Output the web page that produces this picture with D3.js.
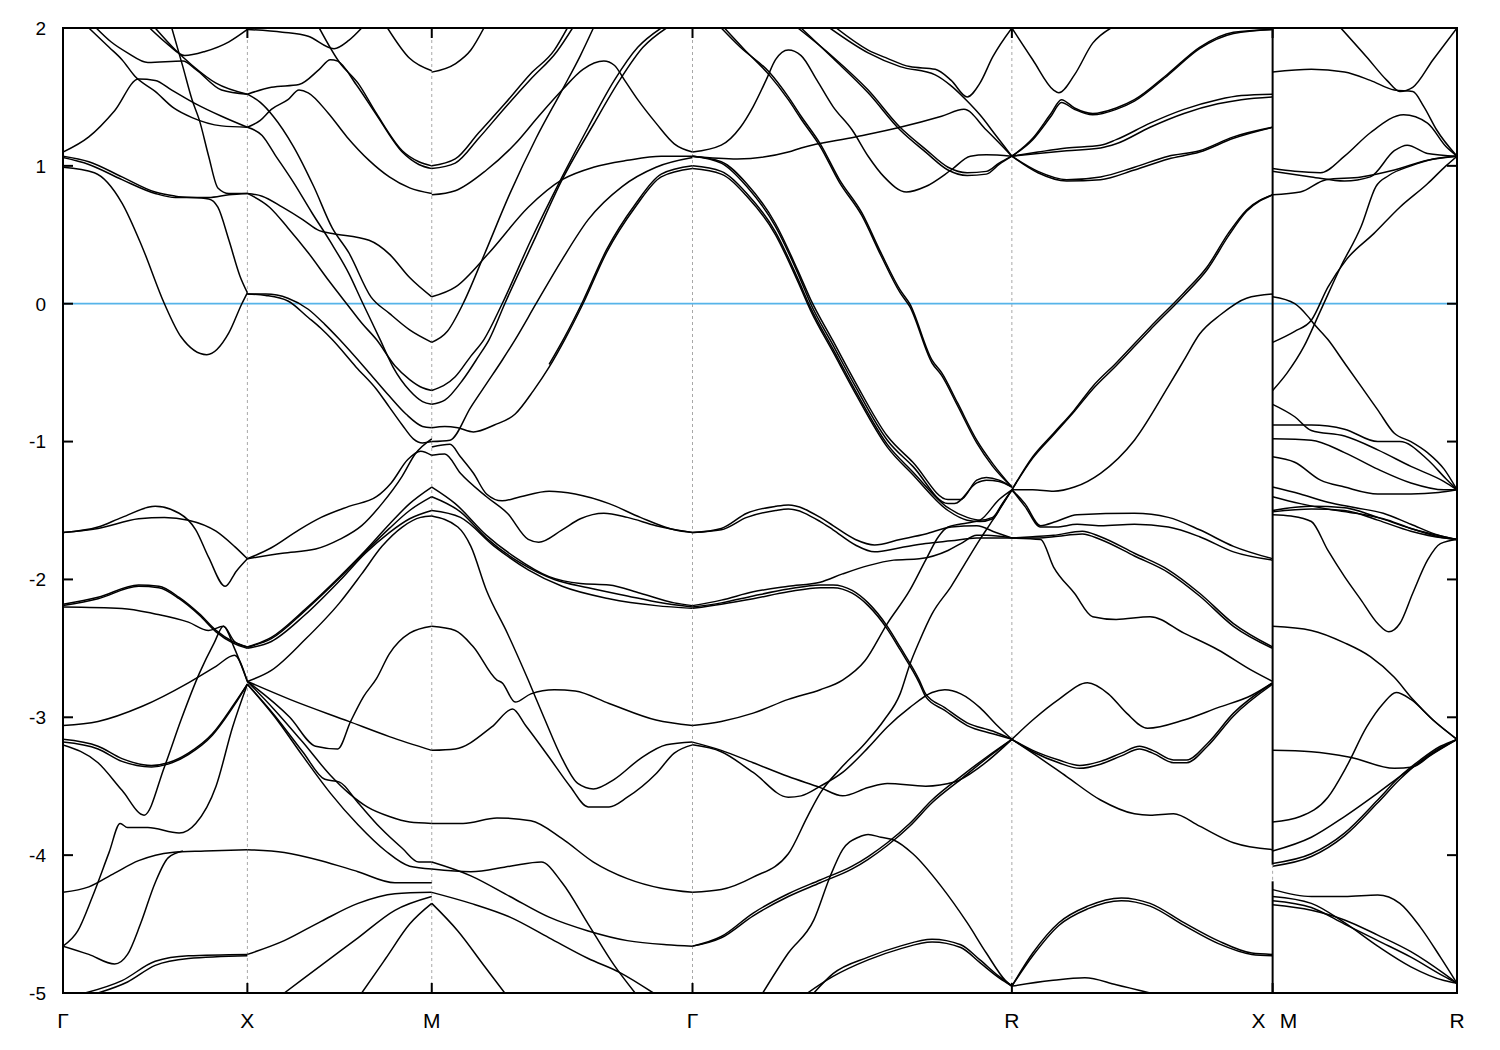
<!DOCTYPE html>
<html><head><meta charset="utf-8">
<script src="https://cdn.jsdelivr.net/npm/d3@7"></script>
<style>body{margin:0;background:#fff}</style>
</head><body>
<svg id="c" width="1500" height="1050"></svg>
<script>
// ---------------- DATA ----------------
const kNodes = [0, 1, 2, 3.4142, 5.1463, 6.5605, 7.5605];   // Γ X M Γ R X|M R
const kLabelNames = ["Γ","X","M","Γ","R","X","M","R"];
const kLabelPos   = [0, 1, 2, 3.4142, 5.1463, 6.5605, 6.5605, 7.5605];
const yTicks = [2, 1, 0, -1, -2, -3, -4, -5];
const fermiLevel = 0;
const jumpSpans = [[2, -4.07], [-4.19, -5]];   // vertical band jumps at X|M

// each curve: [t along segment (0..1), energy eV]
const bandsGX = [
 [[0,1.10],[.14,1.21],[.28,1.40],[.41,1.63],[.50,1.62],[.59,1.55],[.72,1.45],[.86,1.36],[1,1.28]],
 [[.14,2.0],[.25,1.86],[.32,1.77],[.39,1.65],[.50,1.54],[.60,1.42],[.70,1.35],[.86,1.29],[1,1.28]],
 [[.18,2.0],[.26,1.90],[.35,1.82],[.46,1.75],[.65,1.76],[.72,1.70],[.86,1.55],[1,1.52]],
 [[.47,2.0],[.57,1.88],[.66,1.80],[.77,1.83],[.90,1.90],[1,1.99]],
 [[.50,2.0],[.61,1.84],[.70,1.73],[.83,1.60],[1,1.52]],
 [[.59,2.0],[.65,1.72],[.70,1.48],[.74,1.33],[.79,1.07],[.84,0.84],[.90,0.80],[1,0.80]],
 [[0,1.07],[.14,1.03],[.32,0.92],[.50,0.81],[.61,0.78],[.79,0.76],[.84,0.70],[.90,0.46],[.96,0.20],[1,0.08]],
 [[0,1.06],[.14,1.01],[.32,0.90],[.50,0.80],[.61,0.77],[.79,0.77],[.90,0.79],[1,0.80]],
 [[0,0.99],[.17,0.95],[.32,0.73],[.43,0.41],[.55,0.0],[.64,-0.24],[.78,-0.37],[.90,-0.21],[.97,0.0],[1,0.08]],
 [[0,-1.66],[.19,-1.62],[.32,-1.55],[.50,-1.47],[.63,-1.52],[.72,-1.64],[.79,-1.84],[.88,-2.05],[.94,-1.94],[1,-1.85]],
 [[0,-1.66],[.19,-1.63],[.41,-1.56],[.55,-1.55],[.68,-1.57],[.83,-1.65],[.93,-1.76],[1,-1.85]],
 [[0,-2.18],[.19,-2.13],[.41,-2.04],[.52,-2.05],[.63,-2.13],[.74,-2.25],[.83,-2.37],[.92,-2.45],[1,-2.49]],
 [[0,-2.19],[.19,-2.14],[.41,-2.05],[.52,-2.06],[.63,-2.14],[.74,-2.26],[.83,-2.38],[.92,-2.46],[1,-2.50]],
 [[0,-2.20],[.32,-2.21],[.50,-2.25],[.68,-2.31],[.79,-2.37],[.87,-2.34],[.93,-2.50],[1,-2.74]],
 [[0,-3.06],[.19,-3.03],[.43,-2.92],[.68,-2.75],[.83,-2.63],[.93,-2.55],[1,-2.74]],
 [[0,-3.16],[.19,-3.21],[.32,-3.30],[.48,-3.35],[.57,-3.33],[.68,-3.26],[.81,-3.12],[.93,-2.90],[1,-2.76]],
 [[0,-3.18],[.19,-3.23],[.32,-3.32],[.48,-3.36],[.57,-3.34],[.68,-3.27],[.81,-3.13],[.93,-2.91],[1,-2.76]],
 [[0,-3.20],[.19,-3.33],[.32,-3.53],[.44,-3.71],[.55,-3.36],[.64,-3.02],[.74,-2.68],[.82,-2.46],[.87,-2.34],[.93,-2.45],[1,-2.49]],
 [[0,-4.66],[.08,-4.55],[.16,-4.30],[.25,-3.98],[.31,-3.77],[.35,-3.80],[.46,-3.80],[.63,-3.84],[.72,-3.77],[.83,-3.50],[.92,-3.07],[1,-2.76]],
 [[0,-4.66],[.14,-4.72],[.28,-4.79],[.35,-4.72],[.42,-4.50],[.50,-4.20],[.57,-4.02],[.65,-3.97]],
 [[0,-4.27],[.14,-4.23],[.28,-4.13],[.41,-4.04],[.59,-3.98],[.77,-3.97],[1,-3.96]],
 [[.12,-5.0],[.32,-4.91],[.50,-4.77],[.68,-4.73],[1,-4.72]],
 [[.19,-5.0],[.35,-4.92],[.50,-4.80],[.68,-4.75],[1,-4.73]]
];

const bandsXM = [
 [[0,1.99],[.19,1.97],[.33,1.94],[.47,1.85],[.55,1.91],[.62,2.0]],
 [[.76,2.0],[.88,1.78],[1,1.69]],
 [[0,1.52],[.13,1.57],[.28,1.59],[.39,1.70],[.45,1.77],[.49,1.76],[.59,1.59],[.70,1.37],[.84,1.10],[.93,1.01],[1,0.98]],
 [[.39,2.0],[.5,1.75],[.6,1.6],[.7,1.38],[.84,1.11],[.93,1.03],[1,1.0]],
 [[0,1.28],[.07,1.33],[.13,1.41],[.22,1.48],[.28,1.55],[.33,1.53],[.44,1.38],[.54,1.21],[.66,1.04],[.77,0.92],[.88,0.84],[1,0.80]],
 [[0,1.52],[.07,1.46],[.14,1.36],[.25,1.14],[.36,0.85],[.46,0.55],[.55,0.37],[.67,0.05],[.77,-0.07],[.88,-0.19],[1,-0.28]],
 [[0,0.80],[.08,0.78],[.19,0.70],[.30,0.61],[.39,0.53],[.46,0.51],[.66,0.46],[.77,0.36],[.88,0.19],[1,0.05]],
 [[0,0.80],[.12,0.70],[.22,0.55],[.33,0.37],[.44,0.17],[.55,-0.02],[.62,-0.14],[.70,-0.26],[.80,-0.45],[.88,-0.55],[.95,-0.61],[1,-0.63]],
 [[0,1.28],[.08,1.22],[.15,1.08],[.25,0.88],[.35,0.66],[.45,0.45],[.55,0.22],[.62,0.02],[.72,-0.26],[.79,-0.46],[.88,-0.63],[.95,-0.71],[1,-0.73]],
 [[0,0.07],[.1,0.07],[.22,0.04],[.33,-0.04],[.42,-0.15],[.50,-0.26],[.66,-0.50],[.77,-0.67],[.86,-0.80],[.95,-0.89],[1,-0.90]],
 [[0,0.07],[.1,0.06],[.22,0.02],[.33,-0.10],[.40,-0.18],[.46,-0.26],[.59,-0.46],[.70,-0.62],[.77,-0.75],[.84,-0.88],[.90,-0.98],[.95,-1.01],[1,-1.0]],
 [[0,-1.85],[.19,-1.81],[.37,-1.78],[.50,-1.71],[.62,-1.61],[.73,-1.45],[.84,-1.25],[.91,-1.09],[1,-0.98]],
 [[0,-1.85],[.13,-1.77],[.28,-1.64],[.40,-1.55],[.55,-1.47],[.70,-1.40],[.78,-1.30],[.87,-1.13],[.94,-1.07],[1,-1.10]],
 [[0,-2.49],[.13,-2.42],[.31,-2.22],[.5,-1.98],[.64,-1.79],[.77,-1.60],[.88,-1.45],[1,-1.33]],
 [[0,-2.49],[.13,-2.43],[.31,-2.23],[.5,-1.99],[.64,-1.80],[.77,-1.63],[.88,-1.50],[1,-1.40]],
 [[0,-2.50],[.13,-2.45],[.31,-2.26],[.5,-2.01],[.64,-1.81],[.77,-1.66],[.88,-1.56],[1,-1.50]],
 [[0,-2.74],[.13,-2.66],[.31,-2.44],[.5,-2.17],[.62,-1.96],[.73,-1.76],[.84,-1.62],[.94,-1.55],[1,-1.54]],
 [[0,-2.74],[.23,-2.87],[.55,-3.03],[.77,-3.14],[1,-3.24]],
 [[0,-2.74],[.23,-3.0],[.37,-3.21],[.49,-3.23],[.56,-3.03],[.63,-2.85],[.70,-2.72],[.77,-2.54],[.88,-2.39],[1,-2.34]],
 [[0,-2.74],[.15,-2.95],[.30,-3.18],[.45,-3.42],[.55,-3.55],[.65,-3.65],[.77,-3.72],[.88,-3.76],[1,-3.77]],
 [[0,-2.76],[.15,-2.99],[.30,-3.25],[.42,-3.45],[.50,-3.47],[.60,-3.62],[.72,-3.80],[.84,-3.95],[.93,-4.05],[1,-4.05]],
 [[0,-2.76],[.15,-3.0],[.30,-3.28],[.45,-3.55],[.60,-3.78],[.75,-3.97],[.88,-4.08],[1,-4.10]],
 [[0,-3.96],[.2,-3.98],[.4,-4.04],[.6,-4.12],[.8,-4.20],[1,-4.20]],
 [[0,-4.72],[.2,-4.62],[.4,-4.48],[.6,-4.35],[.8,-4.28],[1,-4.27]],
 [[.62,-5.0],[.75,-4.75],[.88,-4.5],[1,-4.35]],
 [[.2,-5.0],[.4,-4.8],[.6,-4.6],[.8,-4.40],[1,-4.30]]
];

const bandsMG = [
 [[0,1.68],[.09,1.74],[.15,1.84],[.20,2.0]],
 [[0,1.0],[.09,1.05],[.18,1.24],[.28,1.45],[.38,1.67],[.47,1.84],[.52,2.0]],
 [[0,0.98],[.09,1.02],[.18,1.20],[.28,1.42],[.38,1.63],[.48,1.83],[.54,2.0]],
 [[0,0.79],[.09,0.82],[.21,0.97],[.32,1.16],[.41,1.36],[.50,1.55],[.58,1.70],[.66,1.76],[.70,1.73],[.74,1.62],[.79,1.48],[.86,1.31],[.93,1.16],[1,1.10]],
 [[0,-0.28],[.06,-0.2],[.12,0.0],[.2,0.35],[.3,0.8],[.4,1.2],[.5,1.55],[.57,1.8],[.62,2.0]],
 [[0,-0.63],[.09,-0.53],[.15,-0.38],[.20,-0.26],[.27,0.0],[.38,0.46],[.50,0.92],[.60,1.28],[.70,1.62],[.79,1.86],[.88,2.0]],
 [[0,-0.73],[.05,-0.70],[.12,-0.55],[.18,-0.38],[.22,-0.26],[.28,0.0],[.39,0.45],[.50,0.90],[.62,1.30],[.72,1.62],[.81,1.86],[.90,2.0]],
 [[0,0.05],[.09,0.12],[.22,0.37],[.37,0.70],[.50,0.90],[.62,0.99],[.75,1.04],[.88,1.07],[1,1.07]],
 [[0,-1.0],[.07,-0.99],[.15,-0.75],[.21,-0.58],[.27,-0.41],[.32,-0.26],[.40,0.0],[.50,0.32],[.60,0.61],[.73,0.85],[.86,0.99],[1,1.06]],
 [[0,-0.90],[.05,-0.89],[.10,-0.90],[.16,-0.93],[.24,-0.88],[.32,-0.80],[.39,-0.63],[.45,-0.46],[.51,-0.26],[.58,0.0],[.67,0.37],[.78,0.70],[.88,0.92],[1,0.98]],
 [[.45,-0.44],[.51,-0.24],[.58,0.02],[.67,0.39],[.78,0.72],[.88,0.94],[1,1.0]],
 [[0,-1.04],[.07,-1.02],[.11,-1.11],[.16,-1.23],[.21,-1.38],[.27,-1.43],[.34,-1.40],[.45,-1.36],[.55,-1.38],[.68,-1.45],[.80,-1.55],[.93,-1.64],[1,-1.66]],
 [[0,-1.10],[.05,-1.09],[.11,-1.23],[.21,-1.40],[.29,-1.52],[.37,-1.71],[.41,-1.73],[.50,-1.64],[.57,-1.56],[.66,-1.52],[.75,-1.55],[.86,-1.61],[1,-1.66]],
 [[0,-1.33],[.09,-1.45],[.21,-1.68],[.32,-1.84],[.45,-1.98],[.57,-2.03],[.68,-2.04],[.80,-2.10],[.93,-2.17],[1,-2.19]],
 [[0,-1.40],[.11,-1.51],[.21,-1.70],[.34,-1.88],[.47,-2.0],[.60,-2.06],[.75,-2.12],[.88,-2.17],[1,-2.20]],
 [[0,-1.50],[.11,-1.55],[.24,-1.76],[.37,-1.93],[.50,-2.05],[.68,-2.14],[.86,-2.19],[1,-2.21]],
 [[0,-1.54],[.10,-1.62],[.15,-1.76],[.21,-2.08],[.29,-2.39],[.37,-2.73],[.43,-3.0],[.50,-3.30],[.56,-3.48],[.62,-3.52],[.70,-3.45],[.80,-3.30],[.90,-3.20],[1,-3.18]],
 [[0,-2.34],[.09,-2.37],[.16,-2.49],[.25,-2.73],[.27,-2.75],[.32,-2.89],[.38,-2.83],[.47,-2.80],[.55,-2.81],[.68,-2.90],[.86,-3.02],[1,-3.06]],
 [[0,-3.24],[.09,-3.23],[.23,-3.07],[.31,-2.94],[.36,-3.06],[.45,-3.29],[.53,-3.50],[.60,-3.65],[.68,-3.65],[.75,-3.58],[.86,-3.41],[.93,-3.26],[1,-3.20]],
 [[0,-3.77],[.12,-3.77],[.25,-3.73],[.38,-3.75],[.50,-3.88],[.62,-4.05],[.75,-4.17],[.88,-4.24],[1,-4.27]],
 [[0,-4.05],[.15,-4.15],[.3,-4.3],[.45,-4.45],[.6,-4.55],[.75,-4.62],[.9,-4.65],[1,-4.66]],
 [[0,-4.27],[.15,-4.35],[.3,-4.45],[.45,-4.6],[.6,-4.75],[.72,-4.85],[.85,-5.0]],
 [[0,-4.35],[.1,-4.55],[.2,-4.8],[.28,-5.0]],
 [[0,-4.10],[.15,-4.12],[.3,-4.08],[.42,-4.05],[.5,-4.2],[.6,-4.5],[.7,-4.8],[.78,-5.0]]
];

const bandsGR = [
 [[0,1.07],[.14,1.05],[.30,1.10],[.34,1.13],[.51,1.21],[.65,1.28],[.78,1.36],[.85,1.41],[.92,1.26],[1,1.07]],
 [[0,1.07],[.09,1.02],[.17,0.85],[.26,0.56],[.33,0.22],[.37,0.0],[.44,-0.3],[.51,-0.60],[.61,-0.99],[.69,-1.18],[.80,-1.45],[.82,-1.45],[.89,-1.30],[.92,-1.28],[.96,-1.29],[1,-1.33]],
 [[0,1.07],[.09,1.03],[.17,0.87],[.26,0.58],[.33,0.24],[.37,0.03],[.44,-0.27],[.51,-0.57],[.61,-0.96],[.69,-1.15],[.80,-1.42],[.84,-1.42],[.89,-1.28],[.92,-1.26],[.96,-1.28],[1,-1.33]],
 [[0,1.0],[.09,0.96],[.17,0.80],[.26,0.52],[.33,0.18],[.37,-0.03],[.44,-0.33],[.51,-0.63],[.61,-1.02],[.69,-1.22],[.80,-1.48],[.86,-1.55],[.90,-1.57],[.94,-1.55],[.97,-1.45],[1,-1.35]],
 [[0,0.98],[.09,0.94],[.17,0.78],[.26,0.50],[.33,0.16],[.37,-0.05],[.44,-0.35],[.51,-0.65],[.61,-1.04],[.69,-1.24],[.80,-1.50],[.86,-1.57],[.90,-1.58],[.94,-1.56],[.97,-1.46],[1,-1.35]],
 [[0,1.10],[.09,1.15],[.15,1.28],[.19,1.43],[.23,1.62],[.26,1.77],[.30,1.84],[.34,1.80],[.39,1.62],[.44,1.43],[.50,1.26],[.55,1.07],[.60,0.92],[.67,0.81],[.73,0.85],[.81,0.97],[.87,1.07],[.92,1.08],[1,1.07]],
 [[.09,2.0],[.15,1.86],[.24,1.68],[.30,1.50],[.34,1.36],[.40,1.16],[.46,0.90],[.53,0.66],[.59,0.37],[.65,0.10],[.68,0.0],[.75,-0.41],[.78,-0.50],[.83,-0.72],[.89,-0.99],[.94,-1.16],[1,-1.33]],
 [[.10,2.0],[.16,1.85],[.24,1.66],[.30,1.48],[.34,1.34],[.40,1.14],[.46,0.88],[.53,0.64],[.59,0.35],[.65,0.08],[.68,-0.02],[.75,-0.43],[.78,-0.52],[.83,-0.74],[.89,-1.01],[.94,-1.18],[1,-1.33]],
 [[.33,2.0],[.44,1.79],[.55,1.55],[.65,1.28],[.73,1.12],[.80,0.99],[.86,0.95],[.92,0.96],[.96,1.02],[1,1.07]],
 [[.34,2.0],[.44,1.78],[.55,1.53],[.65,1.26],[.73,1.10],[.80,0.97],[.86,0.93],[.92,0.94],[.96,1.01],[1,1.07]],
 [[.45,2.0],[.55,1.84],[.61,1.78],[.68,1.72],[.76,1.70],[.81,1.62],[.86,1.50],[.90,1.60],[.94,1.79],[1,2.0]],
 [[.43,2.0],[.55,1.82],[.65,1.72],[.76,1.66],[.81,1.58],[.86,1.47],[.90,1.37],[.95,1.22],[1,1.07]],
 [[0,-1.66],[.09,-1.63],[.17,-1.52],[.26,-1.47],[.30,-1.46],[.40,-1.55],[.44,-1.61],[.51,-1.71],[.57,-1.75],[.65,-1.71],[.73,-1.67],[.81,-1.62],[.89,-1.61],[.95,-1.66],[1,-1.70]],
 [[0,-1.66],[.09,-1.64],[.17,-1.55],[.26,-1.50],[.30,-1.49],[.40,-1.58],[.44,-1.64],[.51,-1.75],[.57,-1.80],[.65,-1.77],[.73,-1.74],[.81,-1.72],[.89,-1.70],[1,-1.70]],
 [[0,-2.19],[.09,-2.15],[.19,-2.09],[.30,-2.05],[.40,-2.02],[.47,-1.96],[.55,-1.90],[.63,-1.86],[.71,-1.85],[.80,-1.79],[.84,-1.74],[.89,-1.68],[.92,-1.68],[1,-1.70]],
 [[0,-2.20],[.09,-2.17],[.19,-2.12],[.30,-2.07],[.40,-2.04],[.44,-2.04],[.50,-2.08],[.55,-2.17],[.61,-2.34],[.65,-2.49],[.71,-2.73],[.73,-2.83],[.79,-2.93],[.86,-3.04],[.94,-3.10],[1,-3.16]],
 [[0,-2.21],[.09,-2.18],[.19,-2.14],[.30,-2.09],[.40,-2.06],[.44,-2.06],[.50,-2.10],[.55,-2.19],[.61,-2.36],[.65,-2.51],[.71,-2.75],[.73,-2.85],[.79,-2.95],[.86,-3.06],[.94,-3.12],[1,-3.16]],
 [[0,-4.27],[.09,-4.25],[.19,-4.16],[.30,-3.99],[.36,-3.72],[.40,-3.55],[.46,-3.38],[.54,-3.19],[.60,-3.02],[.65,-2.83],[.68,-2.62],[.71,-2.45],[.75,-2.25],[.81,-2.05],[.86,-1.86],[.90,-1.71],[.94,-1.57],[.98,-1.42],[1,-1.35]],
 [[0,-4.66],[.09,-4.59],[.19,-4.42],[.30,-4.28],[.40,-4.18],[.50,-4.08],[.55,-4.01],[.61,-3.91],[.68,-3.77],[.75,-3.60],[.84,-3.43],[.92,-3.29],[1,-3.16]],
 [[0,-4.66],[.09,-4.60],[.19,-4.44],[.30,-4.30],[.40,-4.20],[.50,-4.10],[.55,-4.03],[.61,-3.93],[.68,-3.79],[.75,-3.62],[.84,-3.45],[.92,-3.30],[1,-3.16]],
 [[0,-3.06],[.09,-3.03],[.19,-2.97],[.30,-2.87],[.40,-2.80],[.47,-2.73],[.54,-2.59],[.61,-2.32],[.68,-2.08],[.73,-1.86],[.77,-1.69],[.80,-1.62],[.86,-1.59],[.90,-1.57],[.96,-1.42],[1,-1.35]],
 [[0,-3.18],[.09,-3.24],[.19,-3.33],[.30,-3.43],[.40,-3.51],[.47,-3.57],[.55,-3.51],[.61,-3.48],[.73,-3.50],[.82,-3.47],[.90,-3.36],[1,-3.16]],
 [[0,-3.20],[.09,-3.25],[.19,-3.40],[.30,-3.58],[.34,-3.57],[.40,-3.50],[.47,-3.40],[.55,-3.22],[.61,-3.07],[.68,-2.93],[.75,-2.82],[.79,-2.80],[.84,-2.83],[.90,-2.93],[.95,-3.05],[1,-3.16]],
 [[.22,-5.0],[.30,-4.71],[.38,-4.47],[.43,-4.16],[.47,-3.96],[.52,-3.87],[.55,-3.85],[.59,-3.87],[.63,-3.89],[.69,-3.99],[.78,-4.23],[.86,-4.49],[.92,-4.71],[.98,-4.91],[1,-4.95]],
 [[.38,-5.0],[.44,-4.86],[.55,-4.74],[.65,-4.66],[.75,-4.61],[.84,-4.65],[.90,-4.76],[.96,-4.88],[1,-4.95]],
 [[.36,-5.0],[.44,-4.88],[.55,-4.76],[.65,-4.68],[.75,-4.63],[.84,-4.67],[.90,-4.78],[.96,-4.89],[1,-4.95]]
];

const bandsRX = [
 [[0,2.0],[.08,1.77],[.16,1.55],[.18,1.53],[.24,1.66],[.31,1.89],[.38,2.0]],
 [[0,1.07],[.08,1.20],[.15,1.38],[.19,1.48],[.24,1.42],[.31,1.38],[.40,1.42],[.47,1.48],[.60,1.67],[.72,1.86],[.85,1.97],[1,1.99]],
 [[0,1.07],[.08,1.19],[.15,1.36],[.19,1.46],[.24,1.41],[.31,1.37],[.40,1.41],[.47,1.47],[.60,1.66],[.72,1.85],[.85,1.96],[1,1.99]],
 [[0,1.07],[.10,1.10],[.21,1.13],[.34,1.15],[.40,1.19],[.53,1.31],[.66,1.41],[.79,1.48],[.88,1.51],[1,1.52]],
 [[0,1.07],[.10,1.09],[.21,1.11],[.34,1.13],[.40,1.16],[.53,1.28],[.66,1.38],[.79,1.45],[.88,1.48],[1,1.50]],
 [[0,1.07],[.10,0.96],[.21,0.90],[.34,0.92],[.47,0.99],[.60,1.07],[.72,1.11],[.85,1.21],[1,1.28]],
 [[0,1.07],[.10,0.95],[.21,0.89],[.34,0.90],[.47,0.97],[.60,1.05],[.72,1.10],[.85,1.20],[1,1.28]],
 [[0,-1.35],[.08,-1.11],[.16,-0.94],[.24,-0.77],[.31,-0.60],[.40,-0.43],[.53,-0.17],[.66,0.08],[.75,0.27],[.83,0.51],[.90,0.68],[1,0.79]],
 [[0,-1.35],[.08,-1.12],[.16,-0.95],[.24,-0.78],[.31,-0.62],[.40,-0.45],[.53,-0.19],[.66,0.06],[.75,0.25],[.83,0.49],[.90,0.67],[1,0.79]],
 [[0,-1.35],[.08,-1.35],[.16,-1.36],[.24,-1.33],[.34,-1.23],[.47,-0.99],[.60,-0.60],[.66,-0.41],[.72,-0.22],[.80,-0.08],[.90,0.04],[1,0.07]],
 [[0,-1.35],[.05,-1.45],[.11,-1.61],[.17,-1.58],[.25,-1.53],[.47,-1.52],[.60,-1.55],[.72,-1.64],[.85,-1.76],[1,-1.85]],
 [[0,-1.35],[.05,-1.47],[.11,-1.62],[.17,-1.62],[.25,-1.60],[.34,-1.61],[.47,-1.60],[.60,-1.62],[.72,-1.69],[.85,-1.80],[1,-1.86]],
 [[0,-1.70],[.08,-1.69],[.16,-1.68],[.27,-1.65],[.34,-1.69],[.47,-1.81],[.60,-1.93],[.72,-2.10],[.85,-2.32],[1,-2.49]],
 [[0,-1.70],[.08,-1.70],[.16,-1.69],[.27,-1.67],[.34,-1.71],[.47,-1.83],[.60,-1.95],[.72,-2.12],[.85,-2.34],[1,-2.50]],
 [[0,-1.70],[.11,-1.71],[.16,-1.91],[.24,-2.10],[.31,-2.27],[.40,-2.29],[.53,-2.27],[.66,-2.39],[.79,-2.51],[.92,-2.66],[1,-2.74]],
 [[0,-3.16],[.08,-3.02],[.18,-2.87],[.29,-2.75],[.37,-2.83],[.44,-2.97],[.52,-3.08],[.66,-3.02],[.79,-2.93],[.92,-2.84],[1,-2.75]],
 [[0,-3.16],[.08,-3.24],[.18,-3.31],[.26,-3.35],[.34,-3.32],[.42,-3.26],[.49,-3.21],[.54,-3.24],[.62,-3.31],[.67,-3.31],[.75,-3.19],[.85,-2.97],[1,-2.75]],
 [[0,-3.16],[.08,-3.25],[.18,-3.33],[.26,-3.37],[.34,-3.34],[.42,-3.28],[.49,-3.23],[.54,-3.26],[.62,-3.33],[.67,-3.33],[.75,-3.21],[.85,-2.99],[1,-2.76]],
 [[0,-3.16],[.08,-3.26],[.21,-3.43],[.34,-3.60],[.47,-3.70],[.53,-3.71],[.62,-3.70],[.72,-3.79],[.85,-3.91],[1,-3.96]],
 [[0,-4.95],[.08,-4.71],[.18,-4.49],[.29,-4.37],[.42,-4.31],[.53,-4.35],[.66,-4.49],[.79,-4.62],[.92,-4.71],[1,-4.72]],
 [[0,-4.95],[.08,-4.73],[.18,-4.51],[.29,-4.39],[.42,-4.33],[.53,-4.37],[.66,-4.51],[.79,-4.64],[.92,-4.72],[1,-4.73]],
 [[0,-4.95],[.15,-4.91],[.28,-4.89],[.40,-4.94],[.53,-5.0]]
];

const bandsMR = [
 [[.37,2.0],[.51,1.79],[.62,1.62],[.69,1.54],[.76,1.57],[.87,1.77],[1,2.0]],
 [[0,1.68],[.21,1.70],[.39,1.68],[.53,1.62],[.66,1.55],[.76,1.54],[.82,1.43],[.89,1.26],[1,1.07]],
 [[0,0.98],[.12,0.96],[.26,0.95],[.39,1.07],[.53,1.24],[.71,1.37],[.84,1.31],[.94,1.14],[1,1.07]],
 [[0,0.96],[.21,0.92],[.39,0.89],[.53,0.92],[.66,1.11],[.73,1.15],[.84,1.09],[1,1.07]],
 [[0,0.79],[.15,0.81],[.29,0.90],[.48,0.92],[.66,0.97],[.84,1.04],[1,1.07]],
 [[0,-0.63],[.08,-0.50],[.17,-0.31],[.26,-0.05],[.37,0.27],[.48,0.56],[.56,0.85],[.63,0.93],[.75,1.0],[.87,1.05],[1,1.07]],
 [[0,-0.28],[.12,-0.20],[.21,-0.12],[.30,0.12],[.40,0.32],[.55,0.51],[.69,0.70],[.84,0.87],[.94,1.0],[1,1.07]],
 [[0,0.05],[.12,0.0],[.19,-0.09],[.22,-0.14],[.30,-0.26],[.39,-0.43],[.48,-0.60],[.57,-0.77],[.66,-0.94],[.75,-1.0],[.84,-1.08],[.93,-1.20],[1,-1.35]],
 [[0,-0.73],[.12,-0.82],[.21,-0.92],[.39,-0.96],[.57,-1.06],[.75,-1.18],[.93,-1.29],[1,-1.35]],
 [[0,-0.88],[.21,-0.88],[.39,-0.91],[.57,-1.0],[.69,-1.0],[.84,-1.13],[.94,-1.27],[1,-1.35]],
 [[0,-0.98],[.21,-0.99],[.39,-1.08],[.57,-1.20],[.75,-1.30],[.93,-1.35],[1,-1.35]],
 [[0,-1.11],[.12,-1.15],[.26,-1.28],[.39,-1.33],[.57,-1.38],[.75,-1.38],[.90,-1.37],[1,-1.35]],
 [[0,-1.33],[.15,-1.38],[.30,-1.44],[.45,-1.48],[.6,-1.52],[.75,-1.60],[.9,-1.68],[1,-1.71]],
 [[0,-1.40],[.15,-1.45],[.3,-1.49],[.45,-1.52],[.6,-1.56],[.75,-1.63],[.9,-1.69],[1,-1.71]],
 [[0,-1.50],[.21,-1.47],[.39,-1.48],[.57,-1.55],[.75,-1.63],[.93,-1.69],[1,-1.71]],
 [[0,-1.51],[.21,-1.49],[.39,-1.50],[.57,-1.57],[.75,-1.65],[.93,-1.70],[1,-1.71]],
 [[0,-1.53],[.10,-1.54],[.21,-1.58],[.30,-1.79],[.39,-1.98],[.48,-2.15],[.57,-2.32],[.63,-2.38],[.69,-2.32],[.76,-2.10],[.84,-1.86],[.91,-1.74],[1,-1.71]],
 [[0,-2.34],[.21,-2.37],[.39,-2.46],[.53,-2.56],[.66,-2.71],[.76,-2.87],[.87,-3.02],[1,-3.16]],
 [[0,-3.24],[.21,-3.25],[.42,-3.29],[.66,-3.37],[.76,-3.36],[.87,-3.26],[1,-3.16]],
 [[0,-3.76],[.15,-3.72],[.30,-3.58],[.40,-3.36],[.51,-3.07],[.60,-2.90],[.67,-2.82],[.75,-2.87],[.87,-3.02],[1,-3.16]],
 [[0,-3.97],[.21,-3.87],[.39,-3.72],[.57,-3.55],[.71,-3.41],[.84,-3.29],[1,-3.16]],
 [[0,-4.06],[.21,-3.99],[.39,-3.84],[.57,-3.60],[.69,-3.43],[.80,-3.31],[.91,-3.21],[1,-3.16]],
 [[0,-4.08],[.21,-4.01],[.39,-3.86],[.57,-3.62],[.69,-3.45],[.80,-3.32],[.91,-3.22],[1,-3.16]],
 [[0,-4.25],[.21,-4.30],[.39,-4.30],[.57,-4.29],[.69,-4.35],[.80,-4.52],[.91,-4.74],[1,-4.93]],
 [[0,-4.30],[.21,-4.35],[.39,-4.49],[.57,-4.66],[.75,-4.81],[.93,-4.91],[1,-4.93]],
 [[0,-4.33],[.21,-4.38],[.39,-4.50],[.57,-4.62],[.75,-4.74],[.93,-4.88],[1,-4.93]],
 [[0,-4.36],[.21,-4.40],[.39,-4.47],[.57,-4.58],[.75,-4.70],[.93,-4.86],[1,-4.93]]
];

const segmentBands = [bandsGX, bandsXM, bandsMG, bandsGR, bandsRX, bandsMR];

// ---------------- DRAW ----------------
const svg = d3.select("#c");
const L = 63, R = 1457, T = 28, B = 993;
const x = d3.scaleLinear().domain([kNodes[0], kNodes[kNodes.length-1]]).range([L, R]);
const y = d3.scaleLinear().domain([-5, 2]).range([B, T]);
const fontFam = "'Liberation Sans Narrow','Liberation Sans',Arial,sans-serif";

svg.append("defs").append("clipPath").attr("id","plotclip")
  .append("rect").attr("x",L).attr("y",T).attr("width",R-L).attr("height",B-T);

const g = svg.append("g").attr("clip-path","url(#plotclip)");

// dashed verticals at inner high-symmetry points
g.selectAll("line.sym").data(kNodes.slice(1,5)).enter().append("line")
  .attr("x1",d=>x(d)).attr("x2",d=>x(d)).attr("y1",T).attr("y2",B)
  .attr("stroke","#a8a8a8").attr("stroke-width",1).attr("stroke-dasharray","3,3");

// Fermi level
g.append("line").attr("x1",L).attr("x2",R).attr("y1",y(fermiLevel)).attr("y2",y(fermiLevel))
  .attr("stroke","#56b4e9").attr("stroke-width",1.7);

// bands
segmentBands.forEach((curves, si) => {
  const k0 = kNodes[si], k1 = kNodes[si+1];
  const line = d3.line()
    .x(d => x(k0 + d[0]*(k1-k0)))
    .y(d => y(d[1]))
    .curve(d3.curveMonotoneX);
  g.selectAll(null).data(curves).enter().append("path")
    .attr("d", line).attr("fill","none")
    .attr("stroke","#000").attr("stroke-width",1.5).attr("stroke-linejoin","round");
});

// jump at X|M
g.selectAll(null).data(jumpSpans).enter().append("line")
  .attr("x1",x(kNodes[5])).attr("x2",x(kNodes[5]))
  .attr("y1",d=>y(d[0])).attr("y2",d=>y(d[1]))
  .attr("stroke","#000").attr("stroke-width",2);
g.append("line").attr("x1",x(kNodes[5])).attr("x2",x(kNodes[5]))
  .attr("y1",y(jumpSpans[0][1])).attr("y2",y(jumpSpans[1][0]))
  .attr("stroke","#a8a8a8").attr("stroke-width",1).attr("stroke-dasharray","3,3");

// frame
svg.append("rect").attr("x",L).attr("y",T).attr("width",R-L).attr("height",B-T)
  .attr("fill","none").attr("stroke","#000").attr("stroke-width",2);

// y ticks (inward, both sides)
yTicks.forEach(v => {
  svg.append("line").attr("x1",L).attr("x2",L+10).attr("y1",y(v)).attr("y2",y(v)).attr("stroke","#000").attr("stroke-width",2);
  svg.append("line").attr("x1",R-10).attr("x2",R).attr("y1",y(v)).attr("y2",y(v)).attr("stroke","#000").attr("stroke-width",2);
  svg.append("text").attr("x",L-17).attr("y",y(v)).attr("dy","0.36em")
    .attr("text-anchor","end").attr("font-family",fontFam)
    .attr("font-size",19).text(v);
});

// x ticks at high-symmetry points
kNodes.slice(1,6).forEach(k => {
  svg.append("line").attr("x1",x(k)).attr("x2",x(k)).attr("y1",T).attr("y2",T+10).attr("stroke","#000").attr("stroke-width",2);
  svg.append("line").attr("x1",x(k)).attr("x2",x(k)).attr("y1",B-10).attr("y2",B).attr("stroke","#000").attr("stroke-width",2);
});

// x labels
kLabelNames.forEach((name, i) => {
  let dx = 0;
  if (i === 5) { dx = -14; }
  if (i === 6) { dx = 16; }
  svg.append("text").attr("x", x(kLabelPos[i]) + dx).attr("y", 1028)
    .attr("text-anchor", "middle")
    .attr("font-family",fontFam)
    .attr("font-size",21).text(name);
});
</script>
</body></html>
